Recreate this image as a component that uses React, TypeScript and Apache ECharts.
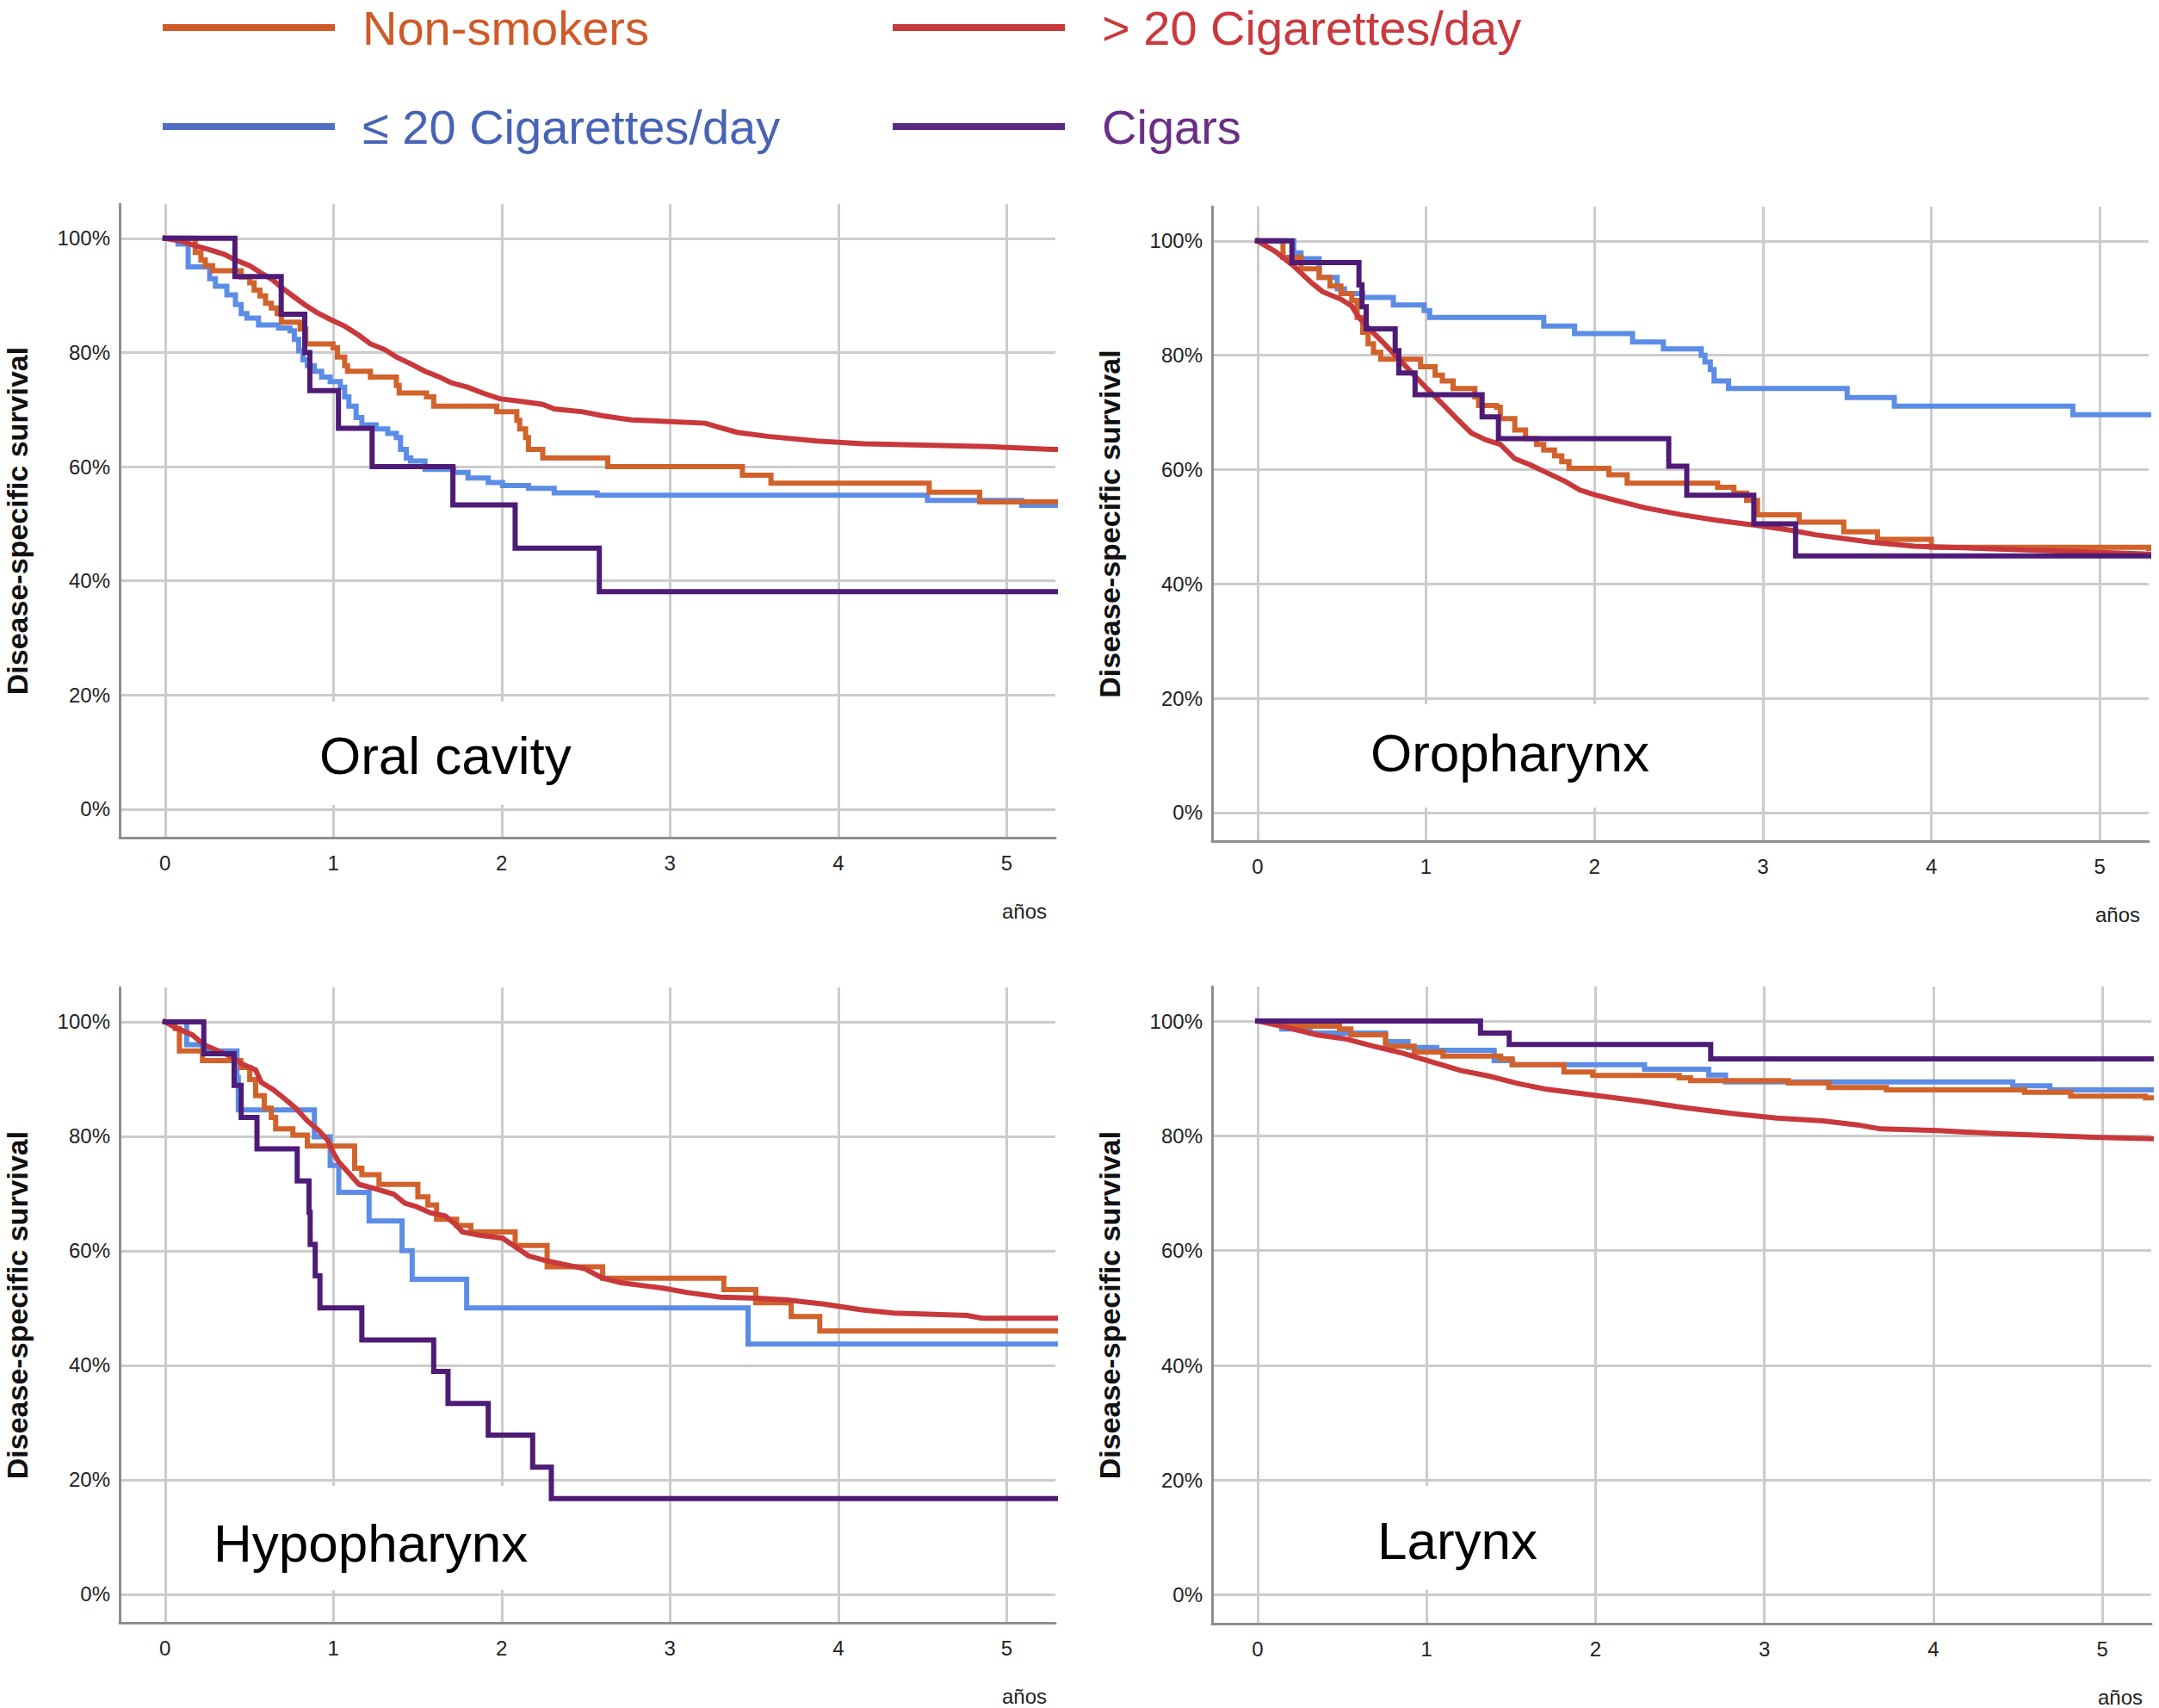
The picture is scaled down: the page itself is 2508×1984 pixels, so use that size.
import React, { useEffect, useRef } from 'react';
import * as echarts from 'echarts';

// ---------- categories / labels ----------
const groupNames = ['Non-smokers', '> 20 Cigarettes/day', '≤ 20 Cigarettes/day', 'Cigars'];
const panelTitles = ['Oral cavity', 'Oropharynx', 'Hypopharynx', 'Larynx'];
const xTicks = [0, 1, 2, 3, 4, 5];
const yTicks = [0, 20, 40, 60, 80, 100];
const xAxisName = 'años';
const yAxisName = 'Disease-specific survival';

// ---------- data: [years, survival %] ----------
// Oral cavity
const oralNon = [[0,100],[0.179,97.5],[0.213,96.2],[0.239,95.2],[0.282,94.3],[0.452,93.2],[0.503,92.2],[0.529,90.9],[0.563,89.9],[0.597,88.6],[0.631,87.8],[0.666,86.8],[0.691,85.3],[0.802,84.1],[0.836,81.5],[0.998,80.8],[1.024,79.2],[1.067,77.7],[1.084,76.7],[1.22,75.7],[1.374,74.2],[1.391,72.9],[1.553,72.2],[1.596,70.6],[1.971,69.6],[2.09,68.1],[2.107,66.6],[2.142,65.1],[2.159,63.0],[2.244,61.5],[2.63,60.0],[3.43,58.5],[3.6,57.1],[4.54,55.5],[4.84,53.8],[5.29,53.8]];
const oralHeavy = [[0,100],[0.094,99.5],[0.179,98.7],[0.265,98.0],[0.35,97.2],[0.418,96.2],[0.503,95.2],[0.572,93.9],[0.64,92.7],[0.691,91.4],[0.759,89.9],[0.828,88.4],[0.896,87.1],[0.981,85.8],[1.067,84.6],[1.152,83.0],[1.22,81.5],[1.305,80.5],[1.374,79.2],[1.459,78.0],[1.544,76.7],[1.63,75.7],[1.698,74.7],[1.8,73.9],[1.886,72.9],[1.988,71.9],[2.125,71.4],[2.244,70.9],[2.312,70.1],[2.483,69.6],[2.6,68.9],[2.77,68.2],[3.21,67.6],[3.3,66.8],[3.4,66.0],[3.58,65.3],[3.87,64.5],[4.15,64.0],[4.89,63.5],[5.27,63.0],[5.29,63.0]];
const oralLight = [[0,100],[0.077,99.0],[0.137,95.0],[0.265,92.9],[0.299,91.6],[0.367,90.1],[0.418,88.4],[0.452,86.8],[0.486,86.0],[0.555,84.8],[0.674,84.3],[0.742,83.8],[0.768,82.3],[0.794,80.3],[0.819,78.7],[0.845,77.7],[0.887,76.7],[0.93,75.7],[0.981,74.9],[1.041,73.9],[1.067,72.2],[1.092,70.6],[1.135,68.6],[1.169,67.3],[1.254,66.6],[1.323,65.8],[1.374,65.1],[1.399,63.0],[1.433,61.5],[1.459,61.0],[1.544,59.5],[1.715,59.0],[1.8,58.0],[1.92,57.2],[2.005,56.7],[2.159,56.2],[2.312,55.4],[2.568,55.0],[4.53,54.1],[5.09,53.2],[5.29,53.2]];
const oralCigars = [[0,100],[0.415,93.3],[0.69,86.7],[0.83,80.0],[0.86,73.3],[1.03,66.7],[1.23,60.0],[1.71,53.3],[2.08,45.7],[2.58,38.1],[5.29,38.1]];

// Oropharynx
const oroNon = [[0,100],[0.151,97.1],[0.258,95.1],[0.366,93.6],[0.43,92.1],[0.495,90.8],[0.559,89.6],[0.591,86.6],[0.624,84.0],[0.656,82.0],[0.688,80.5],[0.731,79.3],[0.968,78.0],[1.054,76.5],[1.097,75.5],[1.161,74.2],[1.29,72.7],[1.312,71.2],[1.419,70.9],[1.441,68.9],[1.527,66.9],[1.591,65.4],[1.656,64.4],[1.699,63.4],[1.763,62.4],[1.806,61.4],[1.849,60.2],[2.086,59.1],[2.194,57.6],[2.731,56.9],[2.828,55.9],[2.903,54.6],[2.968,52.1],[3.215,50.8],[3.48,49.1],[3.68,47.8],[4.0,46.4],[5.29,46.2]];
const oroHeavy = [[0,100],[0.108,98.1],[0.215,95.6],[0.323,92.6],[0.387,91.1],[0.495,89.8],[0.559,88.6],[0.602,86.6],[0.667,84.5],[0.753,82.0],[0.817,80.0],[0.882,78.0],[0.946,76.0],[1.011,74.0],[1.097,71.5],[1.183,68.9],[1.269,66.4],[1.355,65.2],[1.441,64.4],[1.527,61.9],[1.613,60.9],[1.72,59.4],[1.828,57.9],[1.914,56.4],[2.0,55.6],[2.129,54.6],[2.301,53.3],[2.516,52.1],[2.731,51.1],[2.946,50.3],[3.161,49.4],[3.31,48.6],[3.64,47.3],[3.9,46.6],[4.4,46.1],[4.9,45.6],[5.29,45.2]];
const oroLight = [[0,100],[0.215,97.9],[0.258,96.9],[0.366,93.6],[0.473,91.6],[0.516,90.8],[0.624,90.1],[0.806,88.8],[0.989,87.8],[1.022,86.6],[1.699,85.1],[1.882,83.8],[2.226,82.3],[2.409,81.1],[2.634,80.0],[2.656,78.8],[2.688,77.5],[2.71,75.5],[2.796,74.2],[3.5,72.6],[3.78,71.1],[4.84,69.6],[5.29,69.6]];
const oroCigars = [[0,100],[0.204,96.2],[0.602,92.3],[0.62,88.5],[0.645,84.6],[0.817,80.8],[0.839,76.9],[0.935,73.1],[1.333,69.2],[1.43,65.4],[2.441,60.6],[2.548,55.5],[2.946,50.5],[3.194,44.9],[5.29,44.9]];

// Hypopharynx
const hypoNon = [[0,100],[0.06,98.8],[0.085,94.9],[0.222,93.2],[0.45,92.0],[0.503,89.9],[0.538,87.1],[0.589,84.9],[0.631,83.3],[0.657,81.3],[0.759,80.2],[0.845,78.3],[1.126,74.4],[1.169,73.3],[1.271,71.6],[1.502,69.4],[1.561,68.0],[1.613,65.5],[1.732,64.4],[1.817,63.3],[2.08,60.9],[2.27,57.2],[2.6,55.2],[3.32,53.2],[3.51,50.9],[3.72,48.5],[3.89,46.0],[5.29,46.0]];
const hypoHeavy = [[0,100],[0.06,99.0],[0.162,97.7],[0.23,96.0],[0.316,94.9],[0.401,93.8],[0.452,92.7],[0.538,91.6],[0.572,89.4],[0.64,88.2],[0.708,86.6],[0.776,84.9],[0.845,82.7],[0.913,81.0],[0.964,79.4],[0.998,77.2],[1.032,75.5],[1.084,73.8],[1.152,71.6],[1.254,70.8],[1.357,69.9],[1.425,68.3],[1.493,67.7],[1.578,66.6],[1.664,66.1],[1.732,64.4],[1.766,63.3],[1.869,62.7],[2.005,62.2],[2.09,60.5],[2.159,59.1],[2.271,58.2],[2.403,57.4],[2.49,56.9],[2.6,55.2],[2.709,54.4],[2.84,53.9],[2.972,53.4],[3.103,52.7],[3.3,51.9],[3.519,51.7],[3.694,51.4],[3.912,50.7],[4.131,49.7],[4.328,49.1],[4.766,48.7],[4.853,48.2],[5.29,48.2]];
const hypoLight = [[0,100],[0.128,96.0],[0.222,94.9],[0.427,90.2],[0.435,84.6],[0.887,79.9],[0.981,74.9],[1.032,70.2],[1.212,65.2],[1.408,60.0],[1.468,55.0],[1.792,50.0],[3.464,43.7],[5.29,43.7]];
const hypoCigars = [[0,100],[0.23,94.4],[0.41,88.9],[0.452,83.3],[0.546,77.8],[0.785,72.2],[0.855,66.7],[0.862,61.1],[0.892,55.6],[0.92,50.0],[1.169,44.4],[1.596,38.9],[1.681,33.3],[1.92,27.8],[2.184,22.2],[2.295,16.7],[5.29,16.7]];

// Larynx
const larNon = [[0,100],[0.143,99.1],[0.484,98.6],[0.552,97.6],[0.757,95.6],[0.927,94.6],[1.097,93.9],[1.438,93.4],[1.506,92.4],[1.813,91.1],[1.984,90.5],[2.495,90.1],[2.563,89.6],[3.142,89.2],[3.381,88.4],[3.722,88.0],[4.54,87.6],[4.813,86.9],[5.256,86.6],[5.29,86.6]];
const larHeavy = [[0,100],[0.143,99.1],[0.348,97.6],[0.518,96.9],[0.688,95.6],[0.859,94.4],[1.029,92.9],[1.2,91.4],[1.37,90.4],[1.541,89.1],[1.711,88.1],[1.984,87.1],[2.256,86.1],[2.529,84.9],[2.802,83.9],[3.074,83.1],[3.347,82.6],[3.551,81.9],[3.688,81.2],[4.029,80.9],[4.369,80.4],[4.71,80.0],[4.983,79.7],[5.29,79.5]];
const larLight = [[0,100],[0.143,98.6],[0.31,97.9],[0.757,96.4],[0.89,95.4],[1.06,94.9],[1.4,93.1],[1.51,92.4],[2.29,91.6],[2.67,90.6],[2.77,89.4],[4.47,88.7],[4.69,88.0],[5.29,87.9]];
const larCigars = [[0,100],[1.319,97.9],[1.489,95.9],[2.682,93.4],[5.29,93.4]];

// per panel, in group order: Non-smokers, >20, <=20, Cigars
const panelData = [
  [oralNon, oralHeavy, oralLight, oralCigars],
  [oroNon, oroHeavy, oroLight, oroCigars],
  [hypoNon, hypoHeavy, hypoLight, hypoCigars],
  [larNon, larHeavy, larLight, larCigars],
];

// ---------- styling / layout ----------
const FONT = '"Liberation Sans", Arial, Helvetica, sans-serif';
const lineColors = ['#d2622b', '#c9383b', '#5c8de6', '#4e1b76'];
const legendIconColors = ['#cf5b2a', '#c83a3d', '#4f6fc4', '#5a2a80'];
const legendTextColors = ['#cf5a27', '#c9393d', '#4763b6', '#6a2e86'];
const drawOrder = [2, 0, 1, 3]; // blue below, purple on top
const stepMode = ['end', false, 'end', 'end'];

const grids = [
  { left: 139, top: 237, width: 1087, height: 736 },
  { left: 1408, top: 240, width: 1088, height: 737 },
  { left: 139, top: 1147, width: 1087, height: 738 },
  { left: 1408, top: 1146, width: 1091, height: 740 },
];
const titleBoxes = [
  { x: 330, y: 815, w: 390, h: 120, tx: 371, ty: 877 },
  { x: 1550, y: 818, w: 410, h: 120, tx: 1592, ty: 874 },
  { x: 215, y: 1726, w: 420, h: 121, tx: 248, ty: 1792 },
  { x: 1565, y: 1726, w: 270, h: 121, tx: 1600, ty: 1789 },
];
const legendPos = [
  { left: 189, top: 0, pad: 27 },
  { left: 1037, top: 0, pad: 38 },
  { left: 189, top: 115, pad: 27 },
  { left: 1037, top: 115, pad: 38 },
];

function buildOption() {
  const xAxes = grids.map((_, i) => ({
    type: 'value', gridIndex: i, min: -0.27, max: 5.29,
    axisLine: { show: true, onZero: false, lineStyle: { color: '#8e8e8e', width: 3 } },
    axisTick: { show: false },
    splitLine: { show: false },
    axisLabel: { customValues: xTicks, fontSize: 24, color: '#222', margin: 17, fontFamily: FONT },
    name: xAxisName, nameLocation: 'end', nameGap: -10,
    nameTextStyle: { fontSize: 24, color: '#222', fontFamily: FONT, align: 'right', verticalAlign: 'top', padding: [73, 0, 0, 0] },
  }));
  const yAxes = grids.map((_, i) => ({
    type: 'value', gridIndex: i, min: -5, max: 106,
    axisLine: { show: true, onZero: false, lineStyle: { color: '#8e8e8e', width: 3 } },
    axisTick: { show: false },
    splitLine: { show: false },
    axisLabel: { customValues: yTicks, formatter: '{value}%', fontSize: 24, color: '#222', margin: 11, fontFamily: FONT },
    name: yAxisName, nameLocation: 'middle', nameGap: 102,
    nameTextStyle: { fontSize: 34, fontWeight: 'bold', color: '#111', fontFamily: FONT },
  }));

  const series: any[] = [];
  grids.forEach((_, i) => {
    series.push({
      type: 'line', xAxisIndex: i, yAxisIndex: i, data: [], silent: true, z: 0,
      markLine: {
        silent: true, z: 0, symbol: ['none', 'none'], animation: false,
        label: { show: false },
        lineStyle: { color: '#cccccc', width: 3, type: 'solid' },
        data: [...xTicks.map((v) => ({ xAxis: v })), ...yTicks.map((v) => ({ yAxis: v }))],
      },
    });
    drawOrder.forEach((g, k) => {
      series.push({
        type: 'line', name: groupNames[g], xAxisIndex: i, yAxisIndex: i,
        data: panelData[i][g], step: stepMode[g], showSymbol: false, symbol: 'none',
        silent: true, z: 2 + k,
        lineStyle: { color: lineColors[g], width: 6, cap: 'square', join: 'miter' },
        itemStyle: { color: lineColors[g] },
      });
    });
  });

  const legends = groupNames.map((n, g) => ({
    data: [{ name: n, itemStyle: { color: legendIconColors[g] } }],
    left: legendPos[g].left, top: legendPos[g].top, padding: 0,
    icon: 'rect', itemWidth: 200, itemHeight: 8, selectedMode: false,
    textStyle: { color: legendTextColors[g], fontSize: 56, fontFamily: FONT, lineHeight: 64, padding: [0, 0, 0, legendPos[g].pad] },
  }));

  const elements: any[] = [];
  titleBoxes.forEach((b, i) => {
    elements.push({ type: 'rect', z: 1, silent: true, shape: { x: b.x, y: b.y, width: b.w, height: b.h }, style: { fill: '#ffffff' } });
    elements.push({ type: 'text', z: 1, silent: true, x: b.tx, y: b.ty, style: { text: panelTitles[i], fill: '#000', font: `62px ${FONT}`, verticalAlign: 'middle', align: 'left' } });
  });

  return {
    animation: false,
    backgroundColor: '#ffffff',
    textStyle: { fontFamily: FONT },
    grid: grids.map((g) => ({ ...g, containLabel: false })),
    xAxis: xAxes,
    yAxis: yAxes,
    legend: legends,
    series,
    graphic: { elements },
  };
}

export default function App() {
  const ref = useRef<HTMLDivElement>(null);
  useEffect(() => {
    if (!ref.current) return;
    const chart = echarts.init(ref.current, undefined, { renderer: 'svg' });
    chart.setOption(buildOption() as any);
    return () => chart.dispose();
  }, []);
  return (
    <div
      ref={ref}
      style={{ position: 'absolute', left: 0, top: 0, width: 2508, height: 1984, background: '#fff' }}
    />
  );
}
